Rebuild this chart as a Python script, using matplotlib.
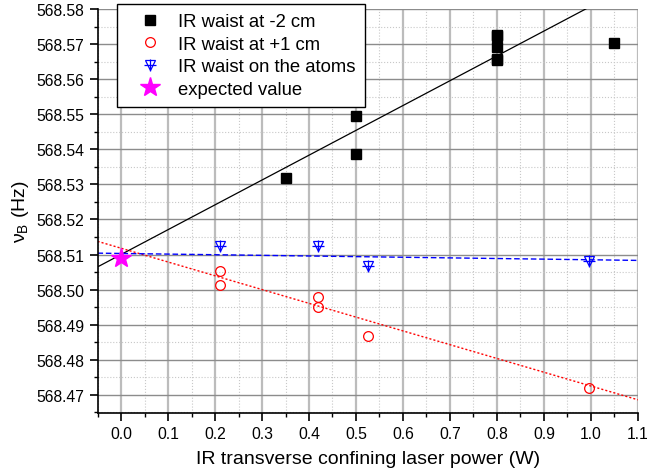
import numpy as np
import matplotlib
matplotlib.use("Agg")
import matplotlib.pyplot as plt
from matplotlib.ticker import MultipleLocator, FormatStrFormatter
from matplotlib.lines import Line2D

plt.rcParams['font.family'] = ['Liberation Sans', 'DejaVu Sans']
plt.rcParams['mathtext.fontset'] = 'custom'
plt.rcParams['mathtext.rm'] = 'Liberation Sans'

# IR waist at -2 cm
x_m2 = [0.35, 0.5, 0.5, 0.8, 0.8, 0.8, 0.8, 0.8, 1.05]
y_m2 = [568.5318, 568.5494, 568.5387, 568.5727, 568.5724, 568.5693,
        568.5658, 568.5655, 568.5704]
# IR waist at +1 cm
x_p1 = [0.21, 0.21, 0.42, 0.42, 0.525, 0.995]
y_p1 = [568.5054, 568.5013, 568.4980, 568.4950, 568.4868, 568.4720]
# IR waist on the atoms
x_at = [0.21, 0.42, 0.525, 0.995]
y_at = [568.5123, 568.5123, 568.5068, 568.5082]
# expected value
x_exp = [0.0]
y_exp = [568.509]

# linear fits (intercept, slope)
fit_m2 = (568.5100, 0.0708)
fit_p1 = (568.5118, -0.0393)
fit_at = (568.5103, -0.0018)

fig = plt.figure(figsize=(6.48, 4.77), dpi=100)
ax = fig.add_axes([0.1505, 0.132, 0.834, 0.847])

xlim = (-0.05, 1.1)
ylim = (568.4648, 568.58)
ax.set_xlim(*xlim)
ax.set_ylim(*ylim)

ax.xaxis.set_major_locator(MultipleLocator(0.1))
ax.xaxis.set_minor_locator(MultipleLocator(0.05))
ax.yaxis.set_major_locator(MultipleLocator(0.01))
ax.yaxis.set_minor_locator(MultipleLocator(0.005))
ax.xaxis.set_major_formatter(FormatStrFormatter('%.1f'))
ax.yaxis.set_major_formatter(FormatStrFormatter('%.2f'))

# grid
ax.grid(which='minor', color='#c8c8c8', linestyle=':', linewidth=0.8)
ax.grid(which='major', axis='x', color='#bcbcbc', linestyle='-', linewidth=1.6)
ax.grid(which='major', axis='y', color='#8c8c8c', linestyle='-', linewidth=1.0)
ax.set_axisbelow(True)

for side in ['top', 'right']:
    ax.spines[side].set_visible(False)
ax.spines['left'].set_linewidth(1.2)
ax.spines['bottom'].set_linewidth(1.2)
ax.tick_params(which='major', direction='out', length=6, width=1.2, labelsize=11.3)
ax.tick_params(which='minor', direction='out', length=3, width=1.0)

xs = np.array(xlim)
ax.plot(xs, fit_m2[0] + fit_m2[1] * xs, color='black', lw=0.9)
ax.plot(xs, fit_p1[0] + fit_p1[1] * xs, color='red', lw=1.0, ls=(0, (1.5, 1.5)))
ax.plot(xs, fit_at[0] + fit_at[1] * xs, color='blue', lw=1.0, ls=(0, (4, 2)))

ax.plot(x_m2, y_m2, 's', color='black', ms=6.5, ls='none')
ax.plot(x_p1, y_p1, 'o', mfc='none', mec='red', mew=0.9, ms=7, ls='none')
ax.plot(x_at, y_at, 'v', mfc='none', mec='blue', mew=0.9, ms=7, ls='none')
ax.plot(x_at, y_at, '+', color='blue', mew=0.9, ms=8, ls='none')
ax.plot(x_exp, y_exp, '*', color='magenta', ms=15, ls='none', clip_on=False)

ax.set_xlabel('IR transverse confining laser power (W)', fontsize=14, labelpad=6)
ax.set_ylabel(r'ν$_\mathregular{B}$ (Hz)', fontsize=14, labelpad=4)

h1 = Line2D([], [], marker='s', color='black', ms=6.5, ls='none')
h2 = Line2D([], [], marker='o', mfc='none', mec='red', mew=0.9, ms=7, ls='none')
h3a = Line2D([], [], marker='v', mfc='none', mec='blue', mew=0.9, ms=7, ls='none')
h3b = Line2D([], [], marker='+', color='blue', mew=0.9, ms=8, ls='none')
h4 = Line2D([], [], marker='*', color='magenta', ms=15, ls='none')
leg = ax.legend([h1, h2, (h3a, h3b), h4],
                ['IR waist at -2 cm', 'IR waist at +1 cm',
                 'IR waist on the atoms', 'expected value'],
                loc='upper left', bbox_to_anchor=(0.036, 1.013),
                fontsize=13.3, frameon=True, fancybox=False,
                edgecolor='black', framealpha=1, borderpad=0.5,
                labelspacing=0.3, handletextpad=0.2, handlelength=2.6,
                borderaxespad=0)
leg.get_frame().set_linewidth(1.0)

fig.savefig('out.png', dpi=100)
